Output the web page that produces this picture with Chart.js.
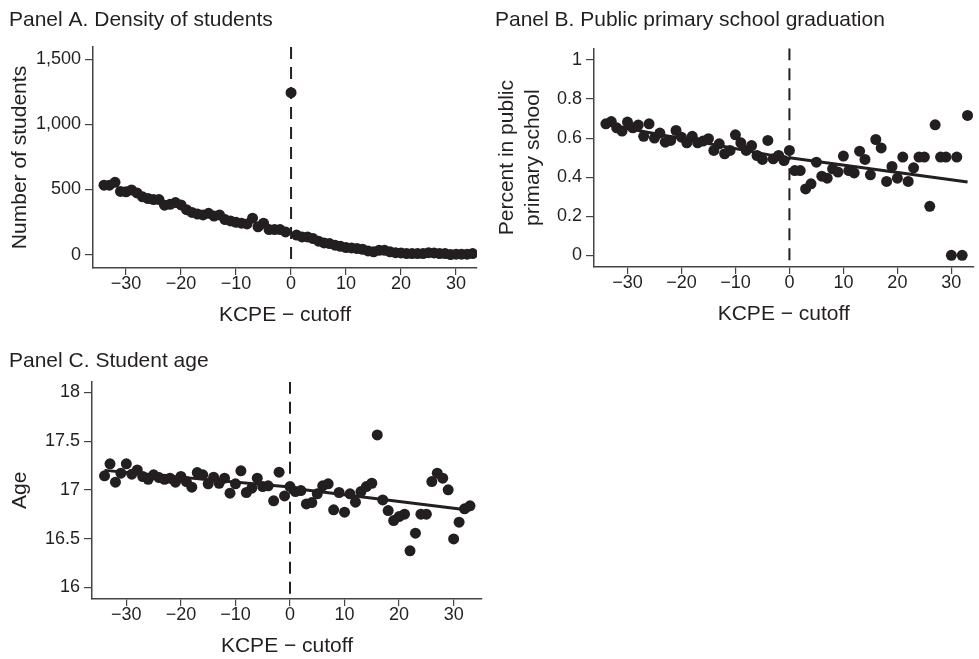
<!DOCTYPE html>
<html>
<head>
<meta charset="utf-8">
<title>KCPE cutoff panels</title>
<script src="https://cdn.jsdelivr.net/npm/chart.js@4.4.0/dist/chart.umd.min.js"></script>
<style>
    body { margin: 0; background: #fff; }
    canvas { position: absolute; }
</style>
</head>
<body>
<canvas id="graficoA" width="490" height="328" style="left:0;top:0"></canvas>
<canvas id="graficoB" width="489" height="327" style="left:490px;top:0"></canvas>
<canvas id="graficoC" width="490" height="325" style="left:0;top:334px"></canvas>
<script>
// KCPE score minus cutoff
const kcpe = [-34, -33, -32, -31, -30, -29, -28, -27, -26, -25, -24, -23, -22, -21, -20, -19, -18,
    -17, -16, -15, -14, -13, -12, -11, -10, -9, -8, -7, -6, -5, -4, -3, -2, -1, 0,
    1, 2, 3, 4, 5, 6, 7, 8, 9, 10, 11, 12, 13, 14, 15, 16, 17, 18, 19, 20, 21, 22, 23, 24, 25,
    26, 27, 28, 29, 30, 31, 32, 33];

// Panel A: number of students
const students = [533, 533, 555, 485, 482, 497, 474, 444, 431, 423, 423, 380, 386, 400, 382, 345, 324,
    312, 305, 317, 296, 305, 269, 259, 248, 241, 236, 280, 213, 241, 192, 192, 192, 174, 1244,
    150, 136, 136, 123, 103, 90, 85, 72, 64, 54, 51, 46, 41, 28, 21, 33, 33, 21, 15, 13, 8, 8, 8, 8, 15,
    13, 8, 8, 0, 3, 3, 3, 8];

// Panel B: share in public primary school
const publicPrimary = [0.673, 0.685, 0.653, 0.636, 0.682, 0.653, 0.667, 0.609, 0.673, 0.600, 0.626, 0.579, 0.588, 0.639, 0.605, 0.576, 0.609,
    0.576, 0.585, 0.597, 0.537, 0.571, 0.520, 0.537, 0.617, 0.576, 0.537, 0.562, 0.511, 0.491, 0.588, 0.494, 0.511, 0.485, 0.537,
    0.434, 0.434, 0.340, 0.366, 0.477, 0.405, 0.395, 0.443, 0.426, 0.508, 0.434, 0.422, 0.533, 0.491, 0.412, 0.593, 0.550, 0.378, 0.455, 0.395, 0.503, 0.378, 0.448, 0.503, 0.503,
    0.251, 0.668, 0.503, 0.503, 0, 0.503, 0, 0.716];

// Panel C: student age
const studentAge = [17.144, 17.267, 17.079, 17.171, 17.267, 17.161, 17.205, 17.137, 17.109, 17.154, 17.126, 17.109, 17.120, 17.079, 17.137, 17.085, 17.027,
    17.178, 17.154, 17.062, 17.130, 17.068, 17.120, 16.966, 17.062, 17.195, 16.973, 17.017, 17.120, 17.034, 17.041, 16.887, 17.181, 16.938, 17.034,
    16.983, 16.993, 16.856, 16.870, 16.959, 17.041, 17.062, 16.795, 16.973, 16.771, 16.959, 16.874, 16.983, 17.034, 17.068, 17.564, 16.897, 16.788, 16.685, 16.726, 16.750, 16.374, 16.556, 16.750, 16.750,
    17.085, 17.171, 17.120, 17.000, 16.497, 16.668, 16.805, 16.836];

// fitted lines on each side of the cutoff
const fitLeftX = [-34, 0];
const fitRightX = [0, 33];
const fitPublicLeft = [0.67, 0.495];
const fitPublicRight = [0.50, 0.375];
const fitAgeLeft = [17.2, 17.03];
const fitAgeRight = [17.02, 16.79];

const cutoffX = [0, 0];

// tick labels
const xTicks = [-30, -20, -10, 0, 10, 20, 30];
const yTicksA = [0, 500, 1000, 1500];
const yTicksB = [0, 0.2, 0.4, 0.6, 0.8, 1];
const yTicksC = [16, 16.5, 17, 17.5, 18];

const INK = "#231f20";
const AXIS = "#444";
const FONT = '"Liberation Sans", Arial, Helvetica, sans-serif';

function pontos(xs, ys) {
    return xs.map((x, i) => ({ x: x, y: ys[i] }));
}

function criarPainel(id, cfg) {
    const datasets = [{
        type: "scatter",
        data: pontos(kcpe, cfg.values),
        backgroundColor: INK,
        borderWidth: 0,
        pointRadius: 5.5,
        order: 0
    }];
    cfg.fits.forEach(f => {
        datasets.push({
            type: "line",
            data: pontos(f.x, f.y),
            borderColor: INK,
            borderWidth: 3,
            pointRadius: 0,
            fill: false,
            order: 1
        });
    });
    // dashed cutoff line, drawn top to bottom
    datasets.push({
        type: "line",
        data: pontos(cutoffX, cfg.yRange.slice().reverse()),
        borderColor: INK,
        borderWidth: 2,
        borderDash: [12, 8],
        pointRadius: 0,
        fill: false,
        order: 2
    });

    return new Chart(document.getElementById(id).getContext("2d"), {
        type: "scatter",
        data: { datasets: datasets },
        options: {
            responsive: false,
            animation: false,
            events: [],
            layout: { padding: { left: cfg.padLeft, right: cfg.padRight, top: 0, bottom: 0 } },
            plugins: {
                legend: { display: false },
                tooltip: { enabled: false },
                title: {
                    display: true,
                    text: cfg.title,
                    align: "start",
                    color: INK,
                    font: { family: FONT, size: 21, weight: "normal", lineHeight: 1.2 },
                    padding: { top: cfg.titleTop, bottom: cfg.titleGap }
                }
            },
            scales: {
                x: {
                    type: "linear",
                    min: cfg.xRange[0],
                    max: cfg.xRange[1],
                    afterBuildTicks: s => { s.ticks = xTicks.map(v => ({ value: v })); },
                    afterFit: s => { s.height = 60; },
                    ticks: {
                        color: INK,
                        padding: 0,
                        font: { family: FONT, size: 18, lineHeight: 1 },
                        callback: v => String(v).replace("-", "\u2212")
                    },
                    grid: { drawOnChartArea: false, tickLength: 7, color: AXIS, lineWidth: 1.2 },
                    border: { color: AXIS, width: 1.5 },
                    title: {
                        display: true,
                        text: "KCPE \u2212 cutoff",
                        color: INK,
                        font: { family: FONT, size: 21, lineHeight: 1.2 },
                        padding: { top: 0, bottom: 0 }
                    }
                },
                y: {
                    type: "linear",
                    min: cfg.yRange[0],
                    max: cfg.yRange[1],
                    afterBuildTicks: s => { s.ticks = cfg.yTicks.map(v => ({ value: v })); },
                    afterFit: s => { s.width = cfg.yWidth; },
                    ticks: {
                        color: INK,
                        padding: 4,
                        font: { family: FONT, size: 18, lineHeight: 1.2 },
                        callback: cfg.yFormat
                    },
                    grid: { drawOnChartArea: false, tickLength: 8, color: AXIS, lineWidth: 1.2 },
                    border: { color: AXIS, width: 1.5 },
                    title: {
                        display: true,
                        text: cfg.yTitle,
                        color: INK,
                        font: { family: FONT, size: 21, lineHeight: cfg.yTitleLine },
                        padding: { top: cfg.yTitlePad, bottom: 0 }
                    }
                }
            }
        }
    });
}

document.addEventListener("DOMContentLoaded", () => {
    criarPainel("graficoA", {
        title: "Panel A. Density of students",
        yTitle: "Number of students",
        values: students,
        fits: [],
        xRange: [-36, 33.8],
        yRange: [-103, 1595],
        yTicks: yTicksA,
        yFormat: v => v.toLocaleString("en-US"),
        padLeft: 9,
        padRight: 13,
        yWidth: 84,
        titleTop: 7.4,
        titleGap: 14.4,
        yTitleLine: 1,
        yTitlePad: 0.5
    });

    criarPainel("graficoB", {
        title: "Panel B. Public primary school graduation",
        yTitle: ["Percent in public", "primary school"],
        values: publicPrimary,
        fits: [{ x: fitLeftX, y: fitPublicLeft }, { x: fitRightX, y: fitPublicRight }],
        xRange: [-36.2, 34.1],
        yRange: [-0.06, 1.06],
        yTicks: yTicksB,
        yFormat: v => String(v),
        padLeft: 5,
        padRight: 1,
        yWidth: 99,
        titleTop: 7.4,
        titleGap: 15.7,
        yTitleLine: 1.2,
        yTitlePad: 0
    });

    criarPainel("graficoC", {
        title: "Panel C. Student age",
        yTitle: "Age",
        values: studentAge,
        fits: [{ x: fitLeftX, y: fitAgeLeft }, { x: fitRightX, y: fitAgeRight }],
        xRange: [-36.3, 35.2],
        yRange: [15.88, 18.11],
        yTicks: yTicksC,
        yFormat: v => String(v),
        padLeft: 9,
        padRight: 8,
        yWidth: 83,
        titleTop: 14.4,
        titleGap: 8.1,
        yTitleLine: 1,
        yTitlePad: 0.5
    });
});
</script>
</body>
</html>
